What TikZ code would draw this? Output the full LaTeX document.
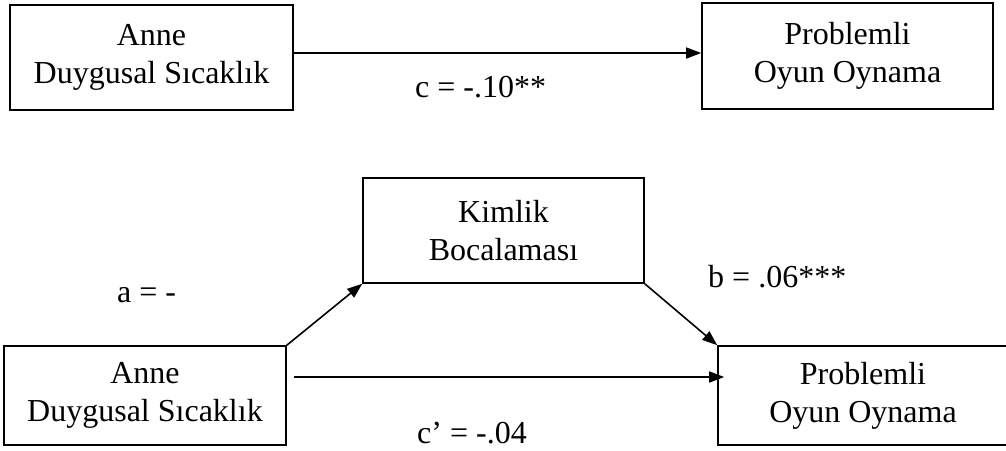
\documentclass[tikz,border=0pt]{standalone}
\usepackage{fontspec}
\setmainfont{Liberation Serif}
\usetikzlibrary{arrows.meta}
\begin{document}
\begin{tikzpicture}[x=1pt,y=-1pt,
  box/.style={draw=black,line width=1.6pt,rectangle,align=center,inner sep=0pt,
    font=\fontsize{32}{38}\selectfont},
  lbl/.style={anchor=base west,inner sep=0pt,font=\fontsize{32}{38}\selectfont},
  arr/.style={line width=1.6pt,-{Triangle[length=15pt,width=11pt]}}]
\useasboundingbox (0,0) rectangle (1006,450);
\fill[white] (0,0) rectangle (1006,450);
% top row
\node[box,minimum width=283pt,minimum height=105pt] (tl) at (151.5,57.5) {Anne\\Duygusal Sıcaklık};
\node[box,minimum width=291pt,minimum height=106pt] (tr) at (847.5,56) {Problemli\\Oyun Oynama};
\draw[arr] ([yshift=4.5pt]tl.east) -- ([yshift=4.5pt]tl.east -| tr.west);
\node[lbl] (lc) at (415,97) {c = -.10**};
% mediation model
\node[box,minimum width=281pt,minimum height=105pt] (mid) at (503.5,230.5) {Kimlik\\Bocalaması};
\node[box,minimum width=282pt,minimum height=99pt] (bl) at (145,395.5) {Anne\\Duygusal Sıcaklık};
\node[box,minimum width=290pt,minimum height=99pt] (br) at (863,395.5) {Problemli\\Oyun Oynama};
\draw[arr] (bl.north east) -- (mid.south west);
\draw[arr] (mid.south east) -- (br.north west);
\draw[arr] ([xshift=7pt,yshift=18.5pt]bl.east) -- ([xshift=7pt,yshift=18.5pt]bl.east -| br.west);
\node[lbl] (la) at (117,302) {a = -};
\node[lbl] (lb) at (708,287) {b = .06***};
\node[lbl] (lcp) at (417,443) {c’ = -.04};
\end{tikzpicture}
\end{document}
